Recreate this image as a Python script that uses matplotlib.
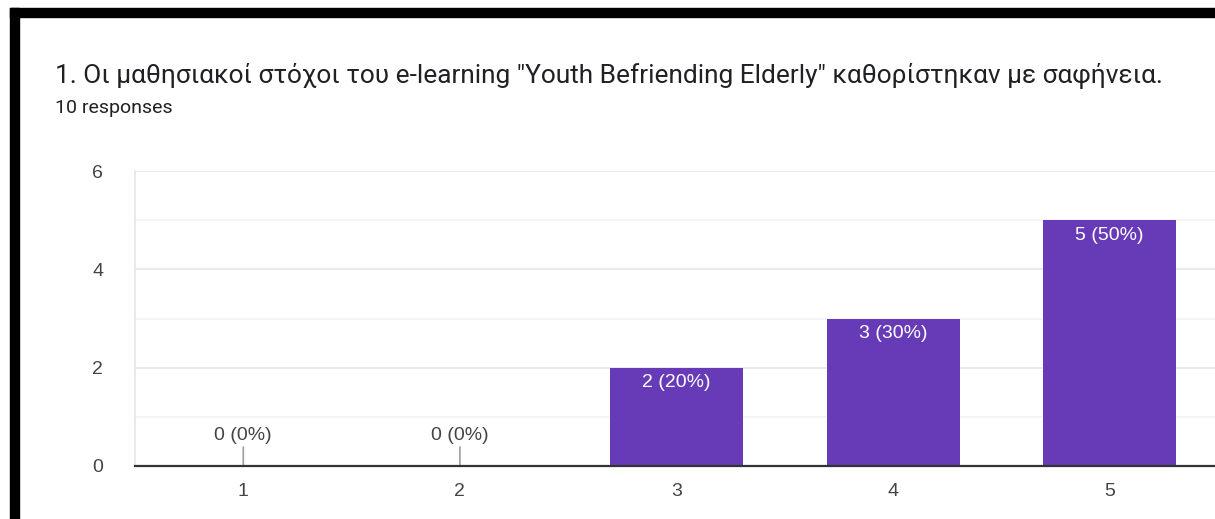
import matplotlib.pyplot as plt
from matplotlib.patches import Rectangle
import numpy as np

# survey answers on a 1-5 scale
categories = ['1', '2', '3', '4', '5']
counts = [0, 0, 2, 3, 5]
total = 10
title = '1. Οι μαθησιακοί στόχοι του e-learning "Youth Befriending Elderly" καθορίστηκαν με σαφήνεια.'
subtitle = '10 responses'
yticks = [0, 2, 4, 6]

W, H = 1215, 519
fig = plt.figure(figsize=(W / 100, H / 100), dpi=100)
fig.patch.set_facecolor('white')

# black frame pieces at top and left (from the screenshot)
fig.add_artist(Rectangle((10 / W, 0), 9 / W, 1 - 8 / H, transform=fig.transFigure,
                         color='black', zorder=10))
fig.add_artist(Rectangle((10 / W, 1 - 17 / H), 1, 9 / H, transform=fig.transFigure,
                         color='black', zorder=10))

fig.text(55 / W, 1 - 83 / H, title, family='Roboto', fontsize=18.9, color='#202124',
         va='baseline', ha='left')
fig.text(55 / W, 1 - 113 / H, subtitle, family='Roboto', fontsize=14, color='#202124',
         va='baseline', ha='left')

left, right = 135 / W, 1218 / W
bottom, top = 53 / H, 348 / H
ax = fig.add_axes([left, bottom, right - left, top - bottom])

x = np.arange(1, len(categories) + 1)
ax.bar(x, counts, width=0.614, color='#673ab7', zorder=3)

for xi, c in zip(x, counts):
    lab = f'{c} ({round(100 * c / total)}%)'
    if c == 0:
        ax.annotate('', xy=(xi, 0), xytext=(0, 19), textcoords='offset pixels',
                    arrowprops=dict(arrowstyle='-', color='#9e9e9e', lw=1.2,
                                    shrinkA=0, shrinkB=0), zorder=4)
        ax.annotate(lab, xy=(xi, 0), xytext=(0, 30), textcoords='offset pixels',
                    ha='center', va='center', fontsize=14, color='#444444',
                    family='Liberation Sans', zorder=5)
    else:
        ax.annotate(lab, xy=(xi, c), xytext=(0, -15), textcoords='offset pixels',
                    ha='center', va='center', fontsize=14, color='white',
                    family='Liberation Sans', zorder=5)

ax.set_xlim(0.5, 5.5)
ax.set_ylim(0, 6)
ax.set_xticks(x)
ax.set_xticklabels(categories)
ax.set_yticks(yticks)
ax.set_yticks([1, 3, 5], minor=True)
ax.tick_params(axis='both', which='both', length=0, labelsize=14, labelcolor='#444444')
ax.tick_params(axis='y', pad=23)
ax.tick_params(axis='x', pad=12)
for t in ax.get_xticklabels() + ax.get_yticklabels():
    t.set_family('Liberation Sans')

ax.grid(axis='y', which='major', color='#e6e6e6', lw=1.2, zorder=0)
ax.grid(axis='y', which='minor', color='#f3f3f3', lw=1.2, zorder=0)
for s in ['top', 'right']:
    ax.spines[s].set_visible(False)
ax.spines['left'].set_color('#e6e6e6')
ax.spines['left'].set_linewidth(1.2)
ax.spines['bottom'].set_color('#333333')
ax.spines['bottom'].set_linewidth(1.6)
ax.spines['bottom'].set_zorder(6)

fig.savefig('out.png', dpi=100)
